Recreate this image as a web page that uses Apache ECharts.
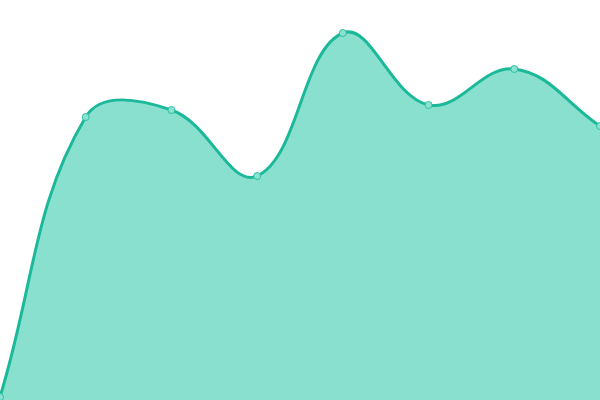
<!DOCTYPE html>
<html>
<head>
<meta charset="utf-8">
<script src="https://cdn.jsdelivr.net/npm/echarts@6/dist/echarts.min.js"></script>
<style>html,body{margin:0;padding:0;background:#fff}#c{width:600px;height:400px}</style>
</head>
<body>
<div id="c"></div>
<script>
const categories = ['1', '2', '3', '4', '5', '6', '7', '8'];
const values = [3, 283, 290, 224, 367, 295, 331, 274];

const TENSION = 0.4;

function controlPoints(prev, cur, next, t) {
  const d01 = Math.hypot(cur[0] - prev[0], cur[1] - prev[1]);
  const d12 = Math.hypot(next[0] - cur[0], next[1] - cur[1]);
  let s01 = d01 / (d01 + d12);
  let s12 = d12 / (d01 + d12);
  if (!isFinite(s01)) s01 = 0;
  if (!isFinite(s12)) s12 = 0;
  const fa = t * s01, fb = t * s12;
  return {
    prev: [cur[0] - fa * (next[0] - prev[0]), cur[1] - fa * (next[1] - prev[1])],
    next: [cur[0] + fb * (next[0] - prev[0]), cur[1] + fb * (next[1] - prev[1])]
  };
}

function renderItem(params, api) {
  if (params.dataIndex !== 0) return null;
  const pts = values.map((v, i) => api.coord([i, v]));
  const cs = params.coordSys;
  const clampPt = p => [
    Math.min(Math.max(p[0], cs.x), cs.x + cs.width),
    Math.min(Math.max(p[1], cs.y), cs.y + cs.height)
  ];
  const cps = pts.map((p, i) => {
    const prev = pts[i - 1] || p;
    const next = pts[i + 1] || p;
    const c = controlPoints(prev, p, next, TENSION);
    return { prev: clampPt(c.prev), next: clampPt(c.next) };
  });
  let d = 'M' + pts[0][0] + ' ' + pts[0][1];
  for (let i = 1; i < pts.length; i++) {
    const a = cps[i - 1].next, b = cps[i].prev, p = pts[i];
    d += ' C' + a[0] + ' ' + a[1] + ' ' + b[0] + ' ' + b[1] + ' ' + p[0] + ' ' + p[1];
  }
  const baseY = api.coord([0, 0])[1];
  const last = pts[pts.length - 1];
  const area = d + ' L' + last[0] + ' ' + baseY + ' L' + pts[0][0] + ' ' + baseY + ' Z';
  return {
    type: 'group',
    children: [
      { type: 'path', shape: { pathData: area }, style: { fill: '#89e0cf', stroke: null } },
      { type: 'path', shape: { pathData: d }, style: { fill: null, stroke: '#1bb99a', lineWidth: 3 } }
    ]
  };
}

const chart = echarts.init(document.getElementById('c'));
chart.setOption({
  animation: false,
  grid: { left: 0, right: 0, top: 0, bottom: 0, containLabel: false },
  xAxis: { type: 'category', data: categories, boundaryGap: false, show: false },
  yAxis: { type: 'value', min: 0, max: 400, show: false, splitLine: { show: false } },
  series: [{
    type: 'custom',
    renderItem: renderItem,
    data: values.map((v, i) => [i, v]),
    clip: false,
    z: 1
  }, {
    type: 'scatter',
    data: values,
    symbol: 'circle',
    symbolSize: 7,
    itemStyle: { color: '#8ce2d1', borderColor: '#2cc0a2', borderWidth: 1, opacity: 1 },
    z: 3
  }]
});
</script>
</body>
</html>
